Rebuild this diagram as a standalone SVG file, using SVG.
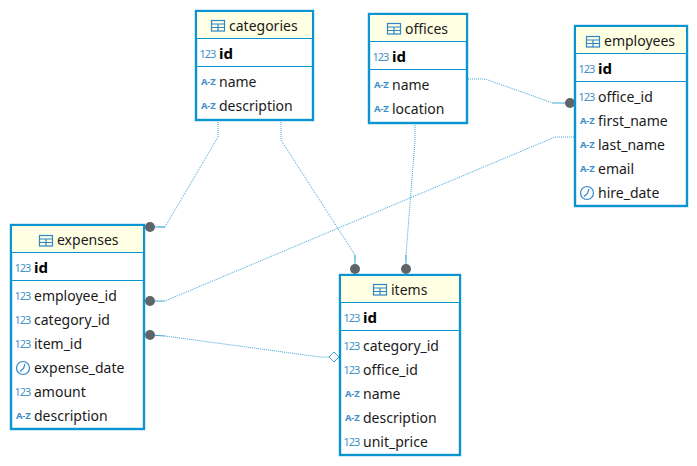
<svg xmlns="http://www.w3.org/2000/svg" width="697" height="466" viewBox="0 0 697 466">
<style>
text{font-family:"Noto Sans","Open Sans","Liberation Sans",sans-serif;font-size:14px;fill:#1a1a1a}
.k{font-weight:700;font-size:15px;fill:#000}
.n{font-size:11px;fill:#3f8fc9;letter-spacing:-1px}
.a{font-size:9.5px;font-weight:700;fill:#3f8fc9;letter-spacing:-.2px}
.b{fill:#fff;stroke:#0a94d0;stroke-width:2.4}
.h{fill:#ffffe3}
.l{stroke:#0a94d0;stroke-width:1;fill:none}
.c{fill:none;stroke:#3aa6d8;stroke-width:1;stroke-dasharray:1 1}
.s{fill:none;stroke:#3aa6d8;stroke-width:1}
.d{fill:#5e6468}
.i{fill:none;stroke:#2f86c8;stroke-width:1.2}
</style>
<defs>
<g id="tbl"><rect class="i" x=".5" y=".5" width="13" height="10.500"/><path class="i" d="M.5 4H13.500M7 4V11M.5 7.500H13.500"/></g>
<g id="clk"><circle class="i" cx="7" cy="7" r="6.500"/><path class="i" d="M9 3L7.500 7.500L4 10.500"/></g>
</defs>
<g id="connectors">
<path class="c" d="M218 122V137L165 227H158"/><path class="s" d="M165 227H150"/>
<path class="c" d="M281 122V140L355 255V260"/><path class="s" d="M355 255V269"/>
<path class="c" d="M415 125V140L406 255V260"/><path class="s" d="M406 255V269"/>
<path class="c" d="M468 79H485L553 103"/><path class="s" d="M553 103H570"/>
<path class="c" d="M574 137H555L165 301"/><path class="s" d="M165 301H150"/>
<path class="c" d="M165 336L320 357H329"/><path class="s" d="M150 335L165 336"/>
<circle class="d" cx="150" cy="227" r="5"/>
<circle class="d" cx="150" cy="301" r="5"/>
<circle class="d" cx="150" cy="335" r="5"/>
<circle class="d" cx="355" cy="269" r="5"/>
<circle class="d" cx="406" cy="269" r="5"/>
<circle class="d" cx="570" cy="103" r="5"/>
<path d="M329 357L334 352L339 357L334 362Z" fill="#fff" stroke="#3aa6d8"/>
</g>
<g id="categories">
<rect class="b" x="196" y="11" width="117" height="109"/><rect class="h" x="197" y="12" width="115" height="26"/>
<path class="l" d="M196 38.500H313M196 66.500H313"/>
<use href="#tbl" x="211" y="20"/><text x="229" y="31">categories</text>
<text class="n" x="199.500" y="57.500">123</text><text class="k" x="219" y="59">id</text>
<text class="a" x="201" y="85">A-Z</text><text x="219" y="87">name</text>
<text class="a" x="201" y="109">A-Z</text><text x="219" y="111">description</text>
</g>
<g id="offices">
<rect class="b" x="369" y="14" width="98" height="109"/><rect class="h" x="370" y="15" width="96" height="26"/>
<path class="l" d="M369 41.500H467M369 69.500H467"/>
<use href="#tbl" x="387" y="23"/><text x="405" y="34">offices</text>
<text class="n" x="372.500" y="60.500">123</text><text class="k" x="392" y="62">id</text>
<text class="a" x="374" y="88">A-Z</text><text x="392" y="90">name</text>
<text class="a" x="374" y="112">A-Z</text><text x="392" y="114">location</text>
</g>
<g id="employees">
<rect class="b" x="575" y="26" width="112" height="180"/><rect class="h" x="576" y="27" width="110" height="26"/>
<path class="l" d="M575 53.500H687M575 81.500H687"/>
<use href="#tbl" x="586" y="36"/><text x="604" y="46">employees</text>
<text class="n" x="578.500" y="72.500">123</text><text class="k" x="598" y="74">id</text>
<text class="n" x="578.500" y="100.500">123</text><text x="598" y="102">office_id</text>
<text class="a" x="580" y="124">A-Z</text><text x="598" y="126">first_name</text>
<text class="a" x="580" y="148">A-Z</text><text x="598" y="150">last_name</text>
<text class="a" x="580" y="172">A-Z</text><text x="598" y="174">email</text>
<use href="#clk" x="580" y="186"/><text x="598" y="198">hire_date</text>
</g>
<g id="expenses">
<rect class="b" x="11" y="225" width="133" height="204"/><rect class="h" x="12" y="226" width="131" height="26"/>
<path class="l" d="M11 252.500H144M11 280.500H144"/>
<use href="#tbl" x="39" y="235"/><text x="57" y="245">expenses</text>
<text class="n" x="14.500" y="271.500">123</text><text class="k" x="34" y="273">id</text>
<text class="n" x="14.500" y="299.500">123</text><text x="34" y="301">employee_id</text>
<text class="n" x="14.500" y="323.500">123</text><text x="34" y="325">category_id</text>
<text class="n" x="14.500" y="347.500">123</text><text x="34" y="349">item_id</text>
<use href="#clk" x="16" y="361"/><text x="34" y="373">expense_date</text>
<text class="n" x="14.500" y="395.500">123</text><text x="34" y="397">amount</text>
<text class="a" x="16" y="419">A-Z</text><text x="34" y="421">description</text>
</g>
<g id="items">
<rect class="b" x="340" y="275" width="120" height="180"/><rect class="h" x="341" y="276" width="118" height="26"/>
<path class="l" d="M340 302.500H460M340 330.500H460"/>
<use href="#tbl" x="373" y="284"/><text x="391" y="295">items</text>
<text class="n" x="343.500" y="321.500">123</text><text class="k" x="363" y="323">id</text>
<text class="n" x="343.500" y="349.500">123</text><text x="363" y="351">category_id</text>
<text class="n" x="343.500" y="373.500">123</text><text x="363" y="375">office_id</text>
<text class="a" x="345" y="397">A-Z</text><text x="363" y="399">name</text>
<text class="a" x="345" y="421">A-Z</text><text x="363" y="423">description</text>
<text class="n" x="343.500" y="445.500">123</text><text x="363" y="447">unit_price</text>
</g>
</svg>
